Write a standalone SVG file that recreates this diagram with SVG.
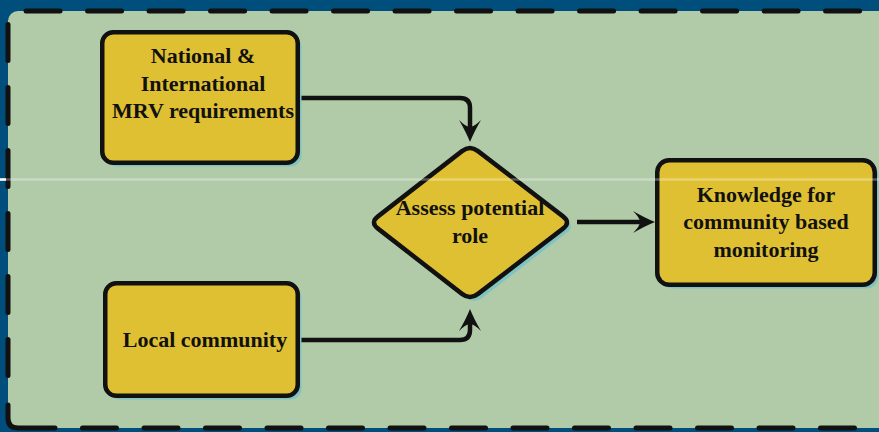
<svg xmlns="http://www.w3.org/2000/svg" width="879" height="432" viewBox="0 0 879 432">
<style>
.shadow{fill:#7fc4c0;}
.node{fill:#dfc032;stroke:#111;stroke-width:4.5;}
.lbl{font-family:"Liberation Serif","Times New Roman",serif;font-weight:bold;font-size:22px;fill:#111;text-anchor:middle;}
.conn{fill:none;stroke:#111;stroke-width:4.5;}
.dash{fill:none;stroke:#111;stroke-width:5;stroke-linecap:round;}
</style>
<defs>
<marker id="ah" viewBox="-24 -12 26 24" refX="-12" refY="0" markerWidth="26" markerHeight="24" markerUnits="userSpaceOnUse" orient="auto">
<path d="M0,0 Q-10,-4 -22,-11 Q-15,-4 -15,0 Q-15,4 -22,11 Q-10,4 0,0 Z" fill="#111"/>
</marker>
</defs>
<rect x="0" y="0" width="879" height="432" fill="#004e7c"/>
<rect x="8" y="11" width="900" height="417" rx="10" fill="#b1cba9"/>
<g id="border">
<path class="dash" d="M8,21 Q8,11 18,11 H900" stroke-dasharray="34 27.5" stroke-dashoffset="37.3"/>
<path class="dash" d="M8,21 V400" stroke-dasharray="36 27" stroke-dashoffset="59.5"/>
<path class="dash" d="M8,405 V418 Q8,428 18,428 H55"/>
<path class="dash" d="M82.5,428 H900" stroke-dasharray="34 27.5"/>
</g>
<g id="connectors">
<path class="conn" d="M300,98 H460 Q470,98 470,108 V130" marker-end="url(#ah)"/>
<path class="conn" d="M300,340 H460 Q470,340 470,330 V321" marker-end="url(#ah)"/>
<path class="conn" d="M577,222 H643" marker-end="url(#ah)"/>
</g>
<g id="node-mrv">
<rect class="shadow" x="106" y="36" width="195.5" height="130.5" rx="11"/>
<rect class="node" x="102.25" y="32.25" width="195.5" height="130.5" rx="11"/>
<text class="lbl" x="203" y="63">National &amp;</text>
<text class="lbl" x="203" y="91">International</text>
<text class="lbl" x="203" y="118">MRV requirements</text>
</g>
<g id="node-local">
<rect class="shadow" x="109" y="287" width="192.5" height="112.5" rx="11"/>
<rect class="node" x="105.25" y="283.25" width="192.5" height="112.5" rx="11"/>
<text class="lbl" x="205" y="347">Local community</text>
</g>
<g id="node-assess">
<path class="shadow" transform="translate(4,4)" d="M462,151.1 Q470,145 478,151.1 L563,216.4 Q571,222.5 563,228.6 L478,293.9 Q470,300 462,293.9 L378,228.6 Q370,222.5 378,216.4 Z"/>
<path class="node" d="M462,151.1 Q470,145 478,151.1 L563,216.4 Q571,222.5 563,228.6 L478,293.9 Q470,300 462,293.9 L378,228.6 Q370,222.5 378,216.4 Z"/>
<text class="lbl" x="470" y="215">Assess potential</text>
<text class="lbl" x="470" y="243">role</text>
</g>
<g id="node-knowledge">
<rect class="shadow" x="661" y="164" width="217.5" height="124.5" rx="12"/>
<rect class="node" x="657.25" y="160.25" width="217.5" height="124.5" rx="12"/>
<text class="lbl" x="766" y="202">Knowledge for</text>
<text class="lbl" x="766" y="229">community based</text>
<text class="lbl" x="766" y="257">monitoring</text>
</g>
<line x1="0" y1="179.5" x2="879" y2="179.5" stroke="#ffffff" stroke-width="2.5" stroke-opacity="0.3"/>
<line x1="0" y1="179.5" x2="6" y2="179.5" stroke="#ffffff" stroke-width="2.5"/>
</svg>
